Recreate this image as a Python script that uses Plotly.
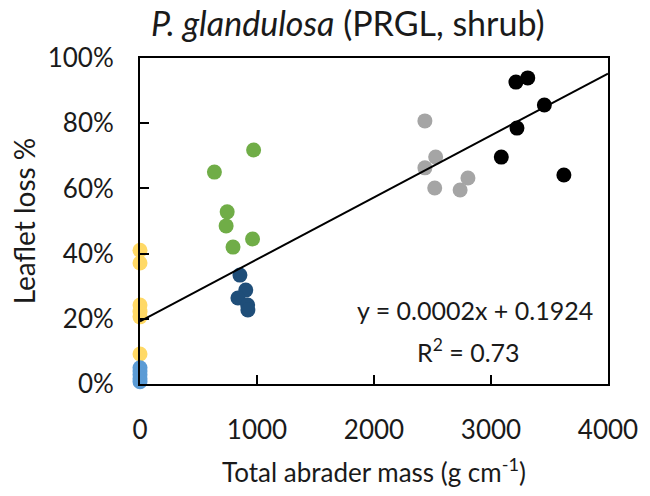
import plotly.graph_objects as go

# --- data ---
x_yellow = [0, 0, 0, 0, 0, 0]
y_yellow = [0.41, 0.371, 0.242, 0.222, 0.206, 0.092]
x_blue = [0, 0, 0, 0, 0]
y_blue = [0.05, 0.04, 0.028, 0.016, 0.007]
x_navy = [854, 904, 837, 920, 922]
y_navy = [0.334, 0.288, 0.264, 0.242, 0.227]
x_green = [971, 636, 745, 736, 962, 795]
y_green = [0.718, 0.65, 0.528, 0.485, 0.445, 0.42]
x_gray = [2435, 2527, 2435, 2519, 2803, 2736]
y_gray = [0.807, 0.696, 0.663, 0.601, 0.632, 0.595]
x_black = [3213, 3314, 3456, 3222, 3088, 3623]
y_black = [0.926, 0.939, 0.856, 0.785, 0.696, 0.641]

trend_slope = 0.00019
trend_intercept = 0.1924
trend_x = [0, 4000]
trend_y = [trend_intercept + trend_slope * v for v in trend_x]

x_ticks = [0, 1000, 2000, 3000, 4000]
y_ticks = [0, 0.2, 0.4, 0.6, 0.8, 1.0]

FONT = "Lato"
MS = 15
TXT = "#1a1a1a"

fig = go.Figure()
groups = [
    (x_yellow, y_yellow, "#FFD966"),
    (x_blue, y_blue, "#5B9BD5"),
    (x_navy, y_navy, "#1F4E79"),
    (x_green, y_green, "#70AD47"),
    (x_gray, y_gray, "#A5A5A5"),
    (x_black, y_black, "#000000"),
]
for xs, ys, col in groups:
    fig.add_trace(go.Scatter(x=xs, y=ys, mode="markers",
                             marker=dict(size=MS, color=col, line=dict(width=0)),
                             cliponaxis=False, showlegend=False))

fig.add_trace(go.Scatter(x=trend_x, y=trend_y, mode="lines",
                         line=dict(color="black", width=2),
                         cliponaxis=False, showlegend=False))

fig.update_layout(
    width=650, height=496,
    margin=dict(l=140, r=32, t=58, b=112),
    paper_bgcolor="white", plot_bgcolor="white",
    font=dict(family=FONT, size=26, color=TXT),
    title=dict(text="<i>P. glandulosa</i> (PRGL, shrub)", x=0.535, xanchor="center",
               y=0.952, yanchor="middle", font=dict(family=FONT, size=34, color=TXT)),
    xaxis=dict(range=[0, 4000], tickvals=x_ticks, ticks="inside", ticklen=9, tickwidth=2,
               tickcolor="black", showline=True, linecolor="black", linewidth=2, mirror=True,
               showgrid=False, zeroline=False, ticklabelstandoff=22,
               tickfont=dict(size=26),
               title=dict(text="Total abrader mass (g cm<sup>-1</sup>)", standoff=20,
                          font=dict(size=26))),
    yaxis=dict(range=[0, 1.0], tickvals=y_ticks, tickformat=".0%", ticks="inside", ticklen=9,
               tickwidth=2, tickcolor="black", showline=True, linecolor="black", linewidth=2,
               mirror=True, showgrid=False, zeroline=False, ticklabelstandoff=19,
               tickfont=dict(size=26),
               title=dict(text="Leaflet loss %", standoff=4, font=dict(size=28))),
)

fig.add_annotation(x=0.715, y=0.227, xref="paper", yref="paper",
                   xanchor="center", yanchor="middle",
                   text="y = 0.0002x + 0.1924",
                   showarrow=False, font=dict(size=25, color=TXT))
fig.add_annotation(x=0.701, y=0.104, xref="paper", yref="paper",
                   xanchor="center", yanchor="middle",
                   text="R<sup>2</sup> = 0.73",
                   showarrow=False, font=dict(size=25, color=TXT))

fig.write_html("out.html")
